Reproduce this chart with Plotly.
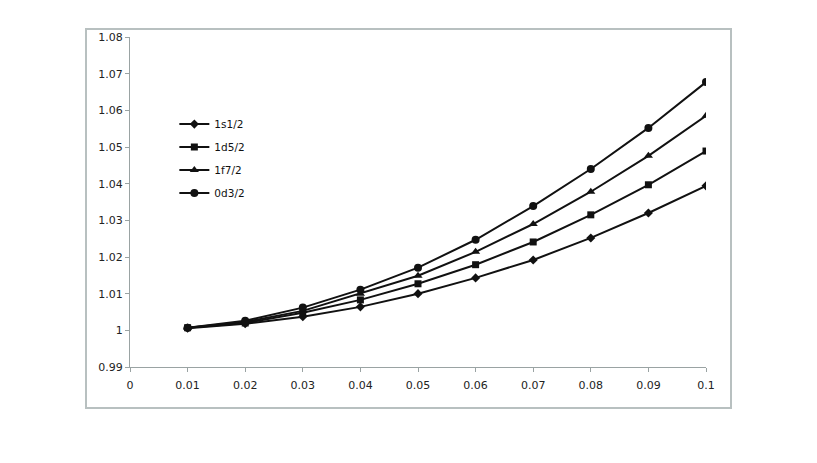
import plotly.graph_objects as go

# x values (parameter) and the four level curves
x_vals = [0.01, 0.02, 0.03, 0.04, 0.05, 0.06, 0.07, 0.08, 0.09, 0.1]
s1_2 = [1.0006, 1.0018, 1.0037, 1.0064, 1.0100, 1.0143, 1.0192, 1.0252, 1.0320, 1.0394]
d5_2 = [1.0007, 1.0020, 1.0048, 1.0083, 1.0127, 1.0179, 1.0241, 1.0315, 1.0397, 1.0489]
f7_2 = [1.0007, 1.0023, 1.0053, 1.0100, 1.0149, 1.0214, 1.0290, 1.0378, 1.0476, 1.0585]
d3_2 = [1.0007, 1.0026, 1.0062, 1.0111, 1.0171, 1.0247, 1.0339, 1.0440, 1.0552, 1.0677]

series = [('1s1/2', s1_2, 'diamond', 7),
          ('1d5/2', d5_2, 'square', 7),
          ('1f7/2', f7_2, 'triangle-up', 8),
          ('0d3/2', d3_2, 'circle', 8)]

family_font = 'DejaVu Sans'
axis_grey = '#9aa3a3'

fig = go.Figure()
for name, vals, sym, sz in series:
    fig.add_trace(go.Scatter(x=x_vals, y=vals, name=name, mode='lines+markers', legendgroup=name,
                             line=dict(color='#111111', width=2),
                             marker=dict(symbol=sym, size=sz, color='#111111')))

# page has an 8px body margin, so the figure is sized to fit the window
fig.update_layout(width=809, height=455, plot_bgcolor='white', paper_bgcolor='white',
                  margin=dict(l=122, r=111, t=29, b=96),
                  font=dict(family=family_font, size=11, color='#222222'),
                  legend=dict(x=0.077, y=0.78, xanchor='left', yanchor='top', tracegroupgap=4,
                              bgcolor='rgba(0,0,0,0)', font=dict(size=10.5, color='#111111')),
                  shapes=[dict(type='rect', xref='paper', yref='paper',
                               x0=-0.0764, x1=1.0434, y0=-0.1242, y1=1.0242,
                               line=dict(color='#b8c0c0', width=2), layer='below')])

fig.update_xaxes(range=[0, 0.1], dtick=0.01, tick0=0, showgrid=False, zeroline=False,
                 showline=True, linecolor=axis_grey, linewidth=1, ticks='outside',
                 ticklen=4, tickcolor=axis_grey, ticklabelstandoff=4)
fig.update_yaxes(range=[0.99, 1.08], dtick=0.01, tick0=0.99, showgrid=False, zeroline=False,
                 showline=True, linecolor=axis_grey, linewidth=1, ticks='outside',
                 ticklen=4, tickcolor=axis_grey)

fig.write_html("out.html")
